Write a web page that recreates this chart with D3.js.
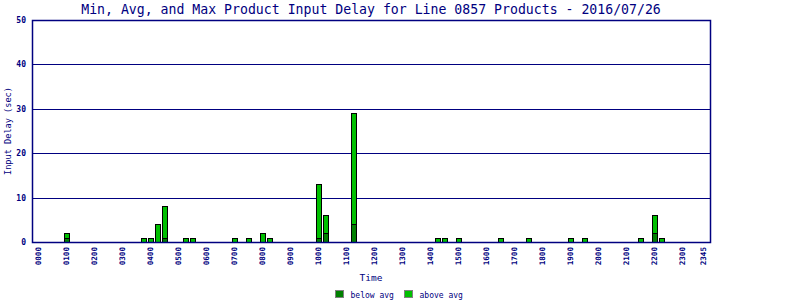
<!DOCTYPE html>
<html>
<head>
<meta charset="utf-8">
<script src="https://cdn.jsdelivr.net/npm/d3@7"></script>
<style>
  body { margin: 0; background: #fff; }
  svg { display: block; }
  text { font-family: "DejaVu Sans Mono", monospace; fill: #000080; }
</style>
</head>
<body>
<svg id="chart" width="800" height="300"></svg>
<script>
// bar slots that have a reading (15 minute buckets)
var times = ["0100", "0345", "0400", "0415", "0430", "0515", "0530", "0700", "0730", "0800", "0815",
             "1000", "1015", "1115", "1415", "1430", "1500", "1630", "1730", "1900", "1930", "2130", "2200", "2215"];
var belowAvg = [1, 0, 0, 0, 1, 0, 0, 0, 0, 0, 0, 1, 2, 4, 0, 0, 0, 0, 0, 0, 0, 0, 2, 0];
var aboveAvg = [1, 1, 1, 4, 7, 1, 1, 1, 1, 2, 1, 12, 4, 25, 1, 1, 1, 1, 1, 1, 1, 1, 4, 1];
var tickLabels = ["0000", "0100", "0200", "0300", "0400", "0500", "0600", "0700", "0800", "0900", "1000", "1100",
                  "1200", "1300", "1400", "1500", "1600", "1700", "1800", "1900", "2000", "2100", "2200", "2300", "2345"];
var yTicks = [0, 10, 20, 30, 40, 50];
var seriesNames = ["below avg", "above avg"];
var seriesColors = ["#008000", "#00c000"];

var delay_chart = {
    draw: function()
    {
        var slots = [];
        for (var h = 0; h < 24; h++)
            for (var m = 0; m < 60; m += 15)
                slots.push(d3.format("02d")(h) + d3.format("02d")(m));

        var svg = d3.select("#chart"),
            pLeft = 32, pRight = 710, pTop = 20, pBottom = 242;

        var x = d3.scaleBand().domain(slots).range([35.5, 707.5]);
        var y = d3.scaleLinear().domain([0, 50]).range([pBottom, pTop]);

        var navy = "#000080";

        // title
        svg.append("text")
            .attr("x", (pLeft + pRight) / 2).attr("y", 14)
            .attr("text-anchor", "middle")
            .style("font-size", "13.2px")
            .text("Min, Avg, and Max Product Input Delay for Line 0857 Products - 2016/07/26");

        // gridlines
        svg.append("g").selectAll("line")
            .data(yTicks.filter(function(d) { return d > 0; }))
            .enter().append("line")
            .attr("x1", pLeft).attr("x2", pRight)
            .attr("y1", function(d) { return Math.round(y(d)) + 0.5; })
            .attr("y2", function(d) { return Math.round(y(d)) + 0.5; })
            .attr("stroke", navy);

        // y tick labels
        svg.append("g").selectAll("text")
            .data(yTicks)
            .enter().append("text")
            .attr("x", 26).attr("y", function(d) { return y(d) + 3; })
            .attr("text-anchor", "end")
            .style("font-size", "8px").style("font-weight", "bold")
            .text(function(d) { return d; });

        // bars
        var rows = times.map(function(t, i) { return { t: t, below: belowAvg[i], above: aboveAvg[i] }; });
        var stack = d3.stack().keys(["below", "above"])(rows);

        svg.append("g").selectAll("g")
            .data(stack)
            .enter().append("g")
            .attr("fill", function(d, i) { return seriesColors[i]; })
            .selectAll("rect")
            .data(function(d) { return d.filter(function(p) { return p[1] > p[0]; }); })
            .enter().append("rect")
            .attr("x", function(p) { return Math.round(x(p.data.t) + x.bandwidth() / 2 - 3) + 0.5; })
            .attr("width", 5)
            .attr("y", function(p) { return Math.round(y(p[1])) + 0.5; })
            .attr("height", function(p) { return Math.round(y(p[0])) - Math.round(y(p[1])); })
            .attr("stroke", "#000");

        // frame
        svg.append("rect")
            .attr("x", pLeft + 0.5).attr("y", Math.round(y(50)) + 0.5)
            .attr("width", pRight - pLeft).attr("height", Math.round(y(0)) - Math.round(y(50)))
            .attr("fill", "none").attr("stroke", navy).attr("stroke-width", 1.5);

        // x tick labels
        svg.append("g").selectAll("text")
            .data(tickLabels)
            .enter().append("text")
            .attr("transform", function(d) {
                return "translate(" + (x(d) + x.bandwidth() / 2 - 0.5) + "," + 247 + ") rotate(-90)";
            })
            .attr("text-anchor", "end")
            .attr("dy", "0.35em")
            .style("font-size", "7.6px").style("font-weight", "bold")
            .text(function(d) { return d; });

        // axis titles
        svg.append("text")
            .attr("x", (pLeft + pRight) / 2).attr("y", 281)
            .attr("text-anchor", "middle")
            .style("font-size", "9.5px")
            .text("Time");

        svg.append("text")
            .attr("transform", "translate(11," + ((pTop + pBottom) / 2) + ") rotate(-90)")
            .attr("text-anchor", "middle")
            .style("font-size", "8.6px")
            .text("Input Delay (sec)");

        // legend
        var legend = svg.append("g").selectAll("g")
            .data(seriesNames)
            .enter().append("g")
            .attr("transform", function(d, i) { return "translate(" + (335.5 + i * 69) + ",290.5)"; });

        legend.append("rect")
            .attr("width", 8).attr("height", 7)
            .attr("fill", function(d, i) { return seriesColors[i]; })
            .attr("stroke", "#808080");

        legend.append("text")
            .attr("x", 15).attr("y", 7)
            .style("font-size", "8px")
            .text(function(d) { return d; });
    }
};

delay_chart.draw();
</script>
</body>
</html>
